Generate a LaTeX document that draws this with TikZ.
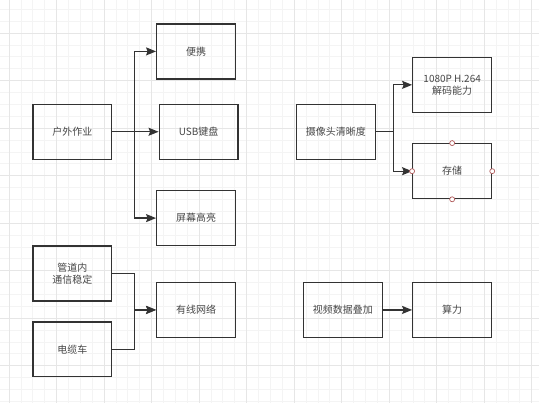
\documentclass[tikz,border=0pt]{standalone}
\usepackage{fontspec}
\newfontfamily\cjk{Noto Sans CJK SC}
\usetikzlibrary{arrows.meta}
\definecolor{gridminor}{HTML}{F4F4F4}
\definecolor{gridmajor}{HTML}{E6E6E6}
\definecolor{edgecol}{HTML}{333333}
\definecolor{handlecol}{HTML}{B05A5A}
\tikzset{font=\cjk\fontsize{10}{12}\selectfont}
\tikzset{box/.style={draw=edgecol, line width=1.3pt, minimum width=79pt, minimum height=55pt,
    inner sep=1pt, align=center, text=black!72}}
\tikzset{conn/.style={draw=edgecol, line width=1.3pt, -{Stealth[length=10pt,width=8pt,inset=1.5pt]}}}
\tikzset{handlept/.style={circle, draw=handlecol, fill=white, line width=0.7pt, inner sep=0pt, minimum size=5pt}}

\begin{document}
\begin{tikzpicture}[x=1pt,y=-1pt]
  \fill[white] (0,0) rectangle (539,403);
% grid
  \foreach \k in {0,...,44} {
    \pgfmathsetmacro\gx{8.7+11.9*\k}
    \draw[gridminor, line width=1pt] (\gx,0) -- (\gx,403);
  }
  \foreach \k in {0,...,33} {
    \pgfmathsetmacro\gy{9+11.9*\k}
    \draw[gridminor, line width=1pt] (0,\gy) -- (539,\gy);
  }
  \foreach \k in {0,...,11} {
    \pgfmathsetmacro\gx{8.7+47.6*\k}
    \draw[gridmajor, line width=1pt] (\gx,0) -- (\gx,403);
  }
  \foreach \k in {0,...,7} {
    \pgfmathsetmacro\gy{32.8+47.6*\k}
    \draw[gridmajor, line width=1pt] (0,\gy) -- (539,\gy);
  }
  \useasboundingbox (0,0) rectangle (539,403);

% left column
  \node[box] (huwai) at (72,131.5) {户外作业};
  \node[box] (guandao) at (72,273.5) {管道内\\通信稳定};
  \node[box] (dianlan) at (72,349.5) {电缆车};
% middle column
  \node[box] (bianxie) at (196,51) {便携};
  \node[box] (usb) at (198.5,131.5) {USB键盘};
  \node[box] (pingmu) at (196,218) {屏幕高亮};
  \node[box] (youxian) at (196,310) {有线网络};
% right side
  \node[box] (shexiang) at (336,131.5) {摄像头清晰度};
  \node[box] (jiema) at (452.5,84.5) {1080P H.264\\解码能力};
  \node[box] (cunchu) at (452.5,171) {存储};
  \node[box] (shipin) at (343,310) {视频数据叠加};
  \node[box] (suanli) at (452.5,310) {算力};

  \coordinate (fork) at (134,131.5);
  \coordinate (join) at (134,310);
  \coordinate (split) at (394,131.5);

  \draw[conn] (huwai.east) -- (usb.west);
  \draw[conn] (huwai.east) -- (fork) |- (bianxie.west);
  \draw[conn] (fork) |- (pingmu.west);
  \draw[conn] (guandao.east) -| (join) -- (youxian.west);
  \draw[conn] (dianlan.east) -| (join) -- (youxian.west);
  \draw[conn] (shexiang.east) -- (split) |- (jiema.west);
  \draw[conn] (split) |- (cunchu.west);
  \draw[conn] (shipin.east) -- (suanli.west);

% handles
  \foreach \a in {north,south,east,west}
    \node[handlept] (cunchu-\a) at (cunchu.\a) {};
\end{tikzpicture}
\end{document}
